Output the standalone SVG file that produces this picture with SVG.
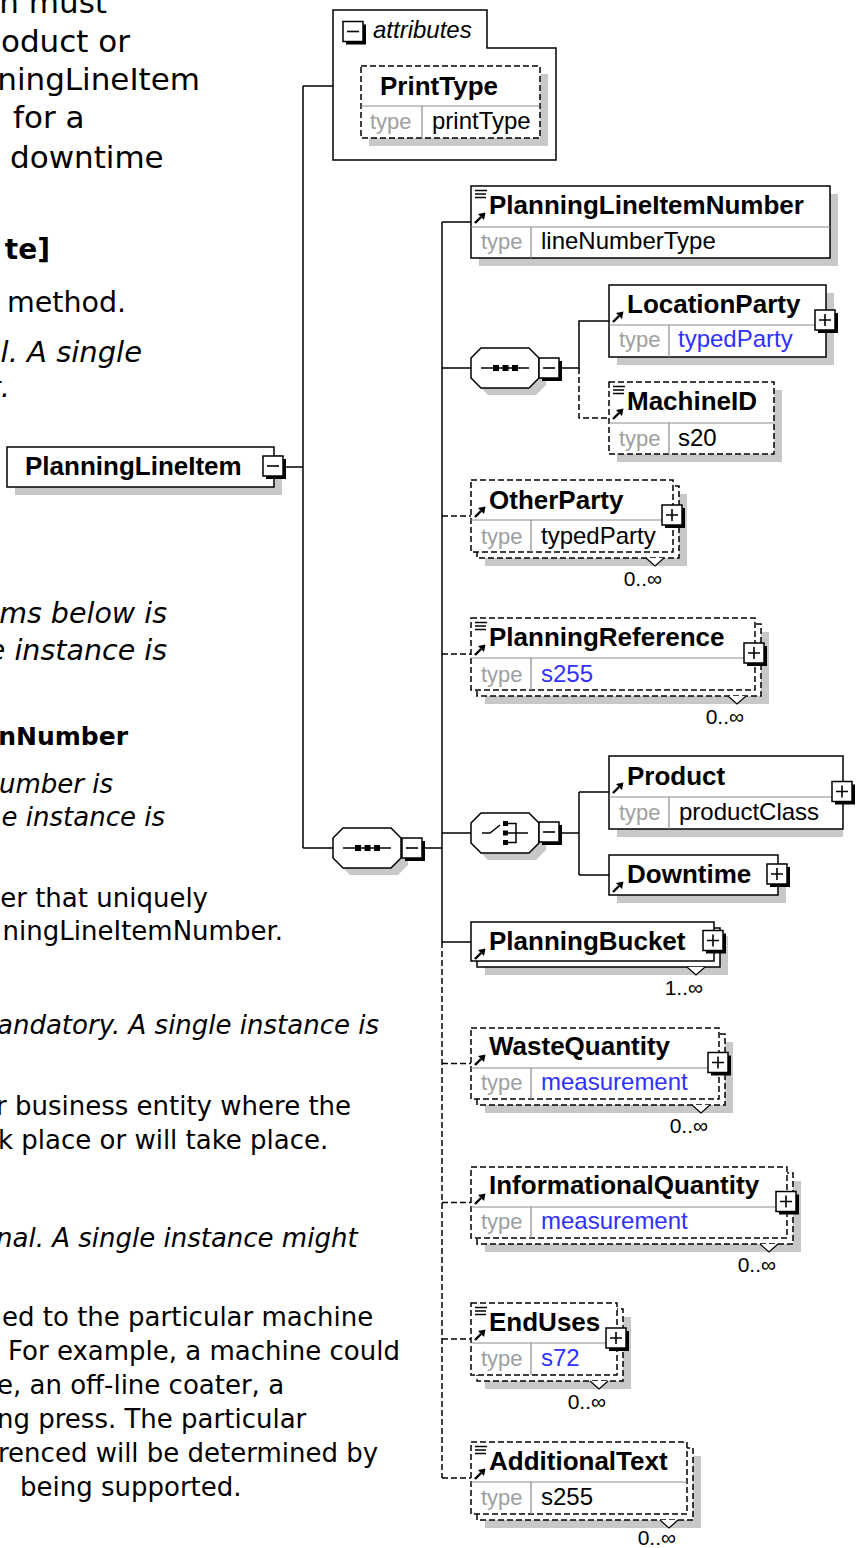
<svg xmlns="http://www.w3.org/2000/svg" width="861" height="1548" viewBox="0 0 861 1548">
<style>
.doc{font-family:"DejaVu Sans",Verdana,sans-serif;fill:#000}
.it{font-style:italic}
.bd{font-weight:bold}
.box{fill:#fff;stroke:#000;stroke-width:1.5}
.dbox{fill:#fff;stroke:#000;stroke-width:1.5;stroke-dasharray:6 3}
.shadow{fill:#c8c8c8}
.div{stroke:#8c8c8c;stroke-width:1.2;fill:none}
.nm{font-family:"Liberation Sans",Arial,sans-serif;font-weight:bold;font-size:26px;fill:#000}
.tl{font-family:"Liberation Sans",Arial,sans-serif;font-size:22px;fill:#a0a0a0}
.tv{font-family:"Liberation Sans",Arial,sans-serif;font-size:24px;fill:#000}
.blue{fill:#3030ff}
.mult{font-family:"Liberation Sans",Arial,sans-serif;font-size:21px;fill:#000;text-anchor:end}
.mk{fill:#fff;stroke:#000;stroke-width:1.2}
.ln{stroke:#000;stroke-width:1.5;fill:none}
.dl{stroke:#000;stroke-width:1.5;fill:none;stroke-dasharray:6 3}
</style>
<defs>
<g id="btnp">
<rect x="-8" y="-8" width="20" height="20" fill="#000"/>
<rect x="-11" y="-11" width="20" height="20" fill="#fff" stroke="#000" stroke-width="1.5"/>
<path d="M-7,-1H5M-1,-7V5" stroke="#000" stroke-width="1.6"/>
</g>
<g id="btnm">
<rect x="-8" y="-8" width="20" height="20" fill="#000"/>
<rect x="-11" y="-11" width="20" height="20" fill="#fff" stroke="#000" stroke-width="1.5"/>
<path d="M-7,-1H5" stroke="#000" stroke-width="1.6"/>
</g>
<g id="doci"><path d="M4,4.5H16M4,8H15M4,11.5H15" stroke="#000" stroke-width="1.3"/></g>
<g id="arr"><path d="M4,37L10,31" stroke="#000" stroke-width="2.4"/><polygon points="7,28 14.5,26.5 13,34" fill="#000"/></g>
<path id="oct" d="M10,0H58L68,10V30L58,40H10L0,30V10Z"/>
</defs>
<rect width="861" height="1548" fill="#fff"/>

<g id="description-text" class="doc">
<text x="107" y="13" font-size="31" text-anchor="end">n must</text>
<text x="130" y="52" font-size="31" text-anchor="end">oduct or</text>
<text x="200" y="90" font-size="31" text-anchor="end">ningLineItem</text>
<text x="13" y="128" font-size="31">for a</text>
<text x="10" y="168" font-size="31">downtime</text>
<text x="50" y="259" font-size="28" class="bd" text-anchor="end">te]</text>
<text x="7" y="312" font-size="28.5">method.</text>
<text x="142" y="362" font-size="29" class="it" text-anchor="end">l. A single</text>
<text x="10" y="397" font-size="29" class="it" text-anchor="end">t.</text>
<text x="167" y="623" font-size="28.5" class="it" text-anchor="end">ms below is</text>
<text x="167" y="660" font-size="28.5" class="it" text-anchor="end">e instance is</text>
<text x="128" y="745" font-size="25" class="bd" text-anchor="end">nNumber</text>
<text x="113" y="793" font-size="26" class="it" text-anchor="end">umber is</text>
<text x="165" y="826" font-size="26" class="it" text-anchor="end">e instance is</text>
<text x="208" y="907" font-size="26" text-anchor="end">er that uniquely</text>
<text x="283" y="940" font-size="26" text-anchor="end">ningLineItemNumber.</text>
<text x="-3" y="1034" font-size="26" class="it">andatory. A single instance is</text>
<text x="-4" y="1115" font-size="26">r business entity where the</text>
<text x="-2" y="1149" font-size="26">k place or will take place.</text>
<text x="-4" y="1247" font-size="26" class="it">nal. A single instance might</text>
<text x="2" y="1326" font-size="26">ed to the particular machine</text>
<text x="8" y="1360" font-size="26">For example, a machine could</text>
<text x="-3" y="1394" font-size="26">e, an off-line coater, a</text>
<text x="-3" y="1428" font-size="26">ng press. The particular</text>
<text x="-2" y="1462" font-size="26">renced will be determined by</text>
<text x="20" y="1496" font-size="26">being supported.</text>
</g>

<g id="connectors">
<path class="ln" d="M285,467H303M303,86V848M303,86H333M303,848H333"/>
<path class="ln" d="M424,848H442M442,222V942"/>
<path class="dl" d="M442,942V1478"/>
<path class="ln" d="M442,222H471M442,368H471M442,833H471M442,942H471"/>
<path class="dl" d="M442,516H471M442,654H471M442,1063.5H471M442,1202.5H471M442,1339H471M442,1478H471"/>
<path class="ln" d="M561,368H579V321H609"/>
<path class="dl" d="M579,368V418H609"/>
<path class="ln" d="M562,833H579M579,792V875M579,792H609M579,875H609"/>
</g>

<g id="PlanningLineItem">
<rect class="shadow" x="15" y="455" width="267" height="40"/>
<rect class="box" x="7" y="447" width="267" height="40"/>
<text class="nm" x="25" y="475" font-size="25">PlanningLineItem</text>
<use href="#btnm" x="274" y="467"/>
</g>

<g id="attributes">
<path class="box" d="M333,160V10H487V48H556V160Z"/>
<use href="#btnm" x="354" y="32.5"/>
<text x="373" y="38" font-family="Liberation Sans, Arial, sans-serif" font-size="24" font-style="italic" fill="#000">attributes</text>
<g id="PrintType">
<rect class="shadow" x="369" y="74" width="179" height="72"/>
<rect class="dbox" x="361" y="66" width="179" height="72"/>
<path class="div" d="M361,106H540M422,106V138"/>
<text class="nm" x="380" y="95">PrintType</text>
<text class="tl" x="370" y="129">type</text>
<text class="tv" x="432" y="129">printType</text>
</g>
</g>

<g id="sequence1">
<use href="#oct" x="340" y="835" class="shadow"/>
<use href="#oct" x="333" y="828" class="box"/>
<path class="ln" d="M343,848H391"/>
<rect x="355" y="845" width="6" height="6"/><rect x="364.5" y="845" width="6" height="6"/><rect x="374" y="845" width="6" height="6"/>
<use href="#btnm" x="413" y="849"/>
</g>

<g id="PlanningLineItemNumber">
<rect class="shadow" x="479" y="194" width="359" height="72"/>
<rect class="box" x="471" y="186" width="359" height="72"/>
<path class="div" d="M471,227H830M531,227V258"/>
<use href="#doci" x="471" y="186"/>
<use href="#arr" x="471" y="186"/>
<text class="nm" x="489" y="214">PlanningLineItemNumber</text>
<text class="tl" x="481" y="249">type</text>
<text class="tv" x="541" y="249">lineNumberType</text>
</g>

<g id="sequence2">
<use href="#oct" x="478" y="355" class="shadow"/>
<use href="#oct" x="471" y="348" class="box"/>
<path class="ln" d="M481,368H529"/>
<rect x="493" y="365" width="6" height="6"/><rect x="502.5" y="365" width="6" height="6"/><rect x="512" y="365" width="6" height="6"/>
<use href="#btnm" x="550" y="369"/>
</g>

<g id="LocationParty">
<rect class="shadow" x="617" y="293" width="217" height="72"/>
<rect class="box" x="609" y="285" width="217" height="72"/>
<path class="div" d="M609,325H826M669,325V357"/>
<use href="#arr" x="609" y="285"/>
<text class="nm" x="627" y="313">LocationParty</text>
<text class="tl" x="619" y="347">type</text>
<text class="tv blue" x="678" y="347">typedParty</text>
<use href="#btnp" x="826" y="321"/>
</g>

<g id="MachineID">
<rect class="shadow" x="617" y="390" width="165" height="72"/>
<rect class="dbox" x="609" y="382" width="165" height="72"/>
<path class="div" d="M609,423H774M669,423V454"/>
<use href="#doci" x="609" y="382"/>
<use href="#arr" x="609" y="382"/>
<text class="nm" x="627" y="410">MachineID</text>
<text class="tl" x="619" y="446">type</text>
<text class="tv" x="678" y="446">s20</text>
</g>

<g id="OtherParty">
<rect class="shadow" x="485" y="494" width="202" height="72"/>
<rect class="dbox" x="477" y="486" width="202" height="72"/>
<rect class="dbox" x="471" y="480" width="202" height="72"/>
<path class="div" d="M471,520H673M531,520V552"/>
<use href="#arr" x="471" y="480"/>
<text class="nm" x="489" y="509">OtherParty</text>
<text class="tl" x="481" y="544">type</text>
<text class="tv" x="541" y="544">typedParty</text>
<use href="#btnp" x="673" y="516"/>
<polyline class="mk" points="646,558 655,566 664,558"/>
<text class="mult" x="662" y="586">0..∞</text>
</g>

<g id="PlanningReference">
<rect class="shadow" x="485" y="632" width="284" height="72"/>
<rect class="dbox" x="477" y="624" width="284" height="72"/>
<rect class="dbox" x="471" y="618" width="284" height="72"/>
<path class="div" d="M471,658H755M531,658V690"/>
<use href="#doci" x="471" y="618"/>
<use href="#arr" x="471" y="618"/>
<text class="nm" x="489" y="646">PlanningReference</text>
<text class="tl" x="481" y="682">type</text>
<text class="tv blue" x="541" y="682">s255</text>
<use href="#btnp" x="755" y="654"/>
<polyline class="mk" points="728,696 737,704 746,696"/>
<text class="mult" x="744" y="724">0..∞</text>
</g>

<g id="choice">
<use href="#oct" x="478" y="820" class="shadow"/>
<use href="#oct" x="471" y="813" class="box"/>
<path class="ln" d="M482,833H490L500,825"/>
<rect x="503" y="821" width="5" height="5"/><rect x="503" y="830.5" width="5" height="5"/><rect x="503" y="840" width="5" height="5"/>
<path class="ln" d="M508,823.5H516V842.5H508M508,833H528"/>
<use href="#btnm" x="550" y="833"/>
</g>

<g id="Product">
<rect class="shadow" x="617" y="764" width="226" height="73"/>
<rect class="box" x="609" y="756" width="234" height="73"/>
<path class="div" d="M609,797H843M669,797V829"/>
<use href="#arr" x="609" y="756"/>
<text class="nm" x="627" y="785">Product</text>
<text class="tl" x="619" y="820">type</text>
<text class="tv" x="679" y="820">productClass</text>
<use href="#btnp" x="843" y="792.5"/>
</g>

<g id="Downtime">
<rect class="shadow" x="617" y="863" width="169" height="40"/>
<rect class="box" x="609" y="855" width="169" height="40"/>
<use href="#arr" x="609" y="855"/>
<text class="nm" x="627" y="883">Downtime</text>
<use href="#btnp" x="778" y="875"/>
</g>

<g id="PlanningBucket">
<rect class="shadow" x="485" y="936" width="243" height="39"/>
<rect class="box" x="477" y="928" width="243" height="39"/>
<rect class="box" x="471" y="922" width="243" height="39"/>
<use href="#arr" x="471" y="922"/>
<text class="nm" x="489" y="950">PlanningBucket</text>
<use href="#btnp" x="714" y="941.5"/>
<polyline class="mk" points="687,967 696,975 705,967"/>
<text class="mult" x="703" y="995">1..∞</text>
</g>

<g id="WasteQuantity">
<rect class="shadow" x="485" y="1042" width="248" height="71"/>
<rect class="dbox" x="477" y="1034" width="248" height="71"/>
<rect class="dbox" x="471" y="1028" width="248" height="71"/>
<path class="div" d="M471,1068H719M531,1068V1099"/>
<use href="#arr" x="471" y="1028"/>
<text class="nm" x="489" y="1055">WasteQuantity</text>
<text class="tl" x="481" y="1090">type</text>
<text class="tv blue" x="541" y="1090">measurement</text>
<use href="#btnp" x="719" y="1063.5"/>
<polyline class="mk" points="692,1105 701,1113 710,1105"/>
<text class="mult" x="708" y="1133">0..∞</text>
</g>

<g id="InformationalQuantity">
<rect class="shadow" x="485" y="1181" width="316" height="71"/>
<rect class="dbox" x="477" y="1173" width="316" height="71"/>
<rect class="dbox" x="471" y="1167" width="316" height="71"/>
<path class="div" d="M471,1207H787M531,1207V1238"/>
<use href="#arr" x="471" y="1167"/>
<text class="nm" x="489" y="1194">InformationalQuantity</text>
<text class="tl" x="481" y="1229">type</text>
<text class="tv blue" x="541" y="1229">measurement</text>
<use href="#btnp" x="787" y="1202.5"/>
<polyline class="mk" points="760,1244 769,1252 778,1244"/>
<text class="mult" x="776" y="1272">0..∞</text>
</g>

<g id="EndUses">
<rect class="shadow" x="485" y="1317" width="146" height="72"/>
<rect class="dbox" x="477" y="1309" width="146" height="72"/>
<rect class="dbox" x="471" y="1303" width="146" height="72"/>
<path class="div" d="M471,1343H617M531,1343V1375"/>
<use href="#doci" x="471" y="1303"/>
<use href="#arr" x="471" y="1303"/>
<text class="nm" x="489" y="1331">EndUses</text>
<text class="tl" x="481" y="1366">type</text>
<text class="tv blue" x="541" y="1366">s72</text>
<use href="#btnp" x="617" y="1339"/>
<polyline class="mk" points="590,1381 599,1389 608,1381"/>
<text class="mult" x="606" y="1409">0..∞</text>
</g>

<g id="AdditionalText">
<rect class="shadow" x="485" y="1456" width="216" height="72"/>
<rect class="dbox" x="477" y="1448" width="216" height="72"/>
<rect class="dbox" x="471" y="1442" width="216" height="72"/>
<path class="div" d="M471,1482H687M531,1482V1514"/>
<use href="#doci" x="471" y="1442"/>
<use href="#arr" x="471" y="1442"/>
<text class="nm" x="489" y="1470">AdditionalText</text>
<text class="tl" x="481" y="1505">type</text>
<text class="tv" x="541" y="1505">s255</text>
<polyline class="mk" points="660,1520 669,1528 678,1520"/>
<text class="mult" x="676" y="1545">0..∞</text>
</g>
</svg>
